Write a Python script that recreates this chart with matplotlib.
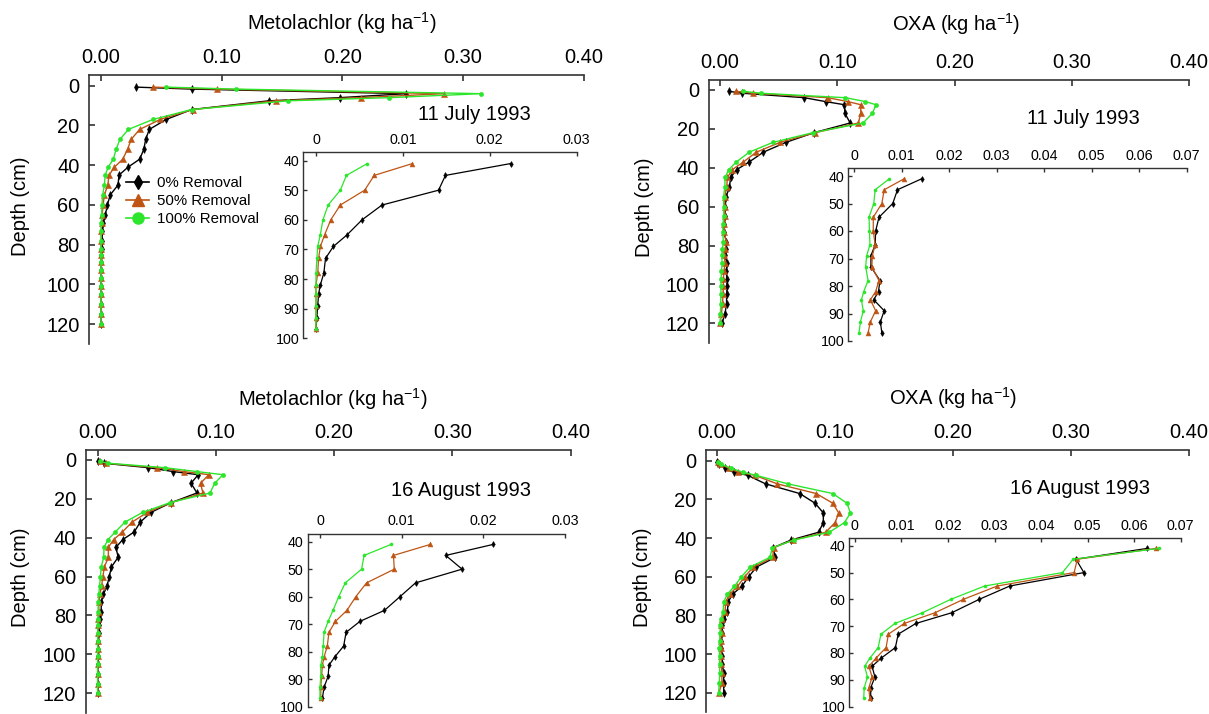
import matplotlib
matplotlib.use("Agg")
import matplotlib.pyplot as plt
from matplotlib.lines import Line2D

plt.rcParams['font.family'] = ['Liberation Sans', 'DejaVu Sans']
plt.rcParams['mathtext.fontset'] = 'custom'
plt.rcParams['mathtext.rm'] = 'Liberation Sans'
plt.rcParams['mathtext.default'] = 'regular'

# sampling depths (cm); the insets show the 41-97 cm part
depth = [0.7, 1.7, 4, 6, 7.6, 12, 17, 22, 27, 32, 37, 41, 45, 50, 55, 60,
         65, 69, 73, 78, 82, 85, 89, 93, 97, 101, 105, 110, 115, 120]
treatments = ["0% Removal", "50% Removal", "100% Removal"]

# metolachlor, 11 July 1993 (kg/ha)
met_jul_0 = [0.029, 0.075, 0.253, 0.198, 0.139, 0.075, 0.054, 0.040, 0.037, 0.0355, 0.032,
             0.0224, 0.0149, 0.0141, 0.0076, 0.0053, 0.0036, 0.0020, 0.0011, 0.0009,
             0.0005, 0.0003, 0.0002, 0.0001, 0.0, 0.0001, 0.0001, 0.0001, 0.0001, 0.0001]
met_jul_50 = [0.043, 0.096, 0.284, 0.215, 0.145, 0.076, 0.049, 0.032, 0.025, 0.022, 0.018,
              0.0111, 0.0067, 0.0056, 0.0028, 0.0017, 0.0010, 0.0005, 0.0003, 0.0002,
              0.0, 0.0, 0.0, 0.0, 0.0, 0.0, 0.0, 0.0, 0.0, 0.0]
met_jul_100 = [0.054, 0.112, 0.315, 0.239, 0.155, 0.075, 0.043, 0.0227, 0.0157, 0.0125, 0.0102,
               0.0059, 0.0035, 0.0028, 0.0014, 0.0008, 0.0005, 0.0002, 0.0001, 0.0,
               0.0, 0.0, 0.0, 0.0, 0.0, 0.0, 0.0, 0.0, 0.0, 0.0]

# OXA, 11 July 1993
oxa_jul_0 = [0.0074, 0.019, 0.072, 0.090, 0.106, 0.1065, 0.111, 0.080, 0.056, 0.037, 0.025,
             0.0142, 0.0091, 0.0081, 0.0052, 0.0045, 0.0044, 0.0035, 0.0035, 0.0054,
             0.0051, 0.0041, 0.0063, 0.0055, 0.0058, 0.0060, 0.0057, 0.0056, 0.0043, 0.0018]
oxa_jul_50 = [0.0136, 0.028, 0.092, 0.109, 0.120, 0.120, 0.118, 0.081, 0.051, 0.031, 0.020,
              0.0105, 0.0063, 0.0058, 0.0040, 0.0040, 0.0044, 0.0038, 0.0037, 0.0052,
              0.0045, 0.0034, 0.0045, 0.0034, 0.0029, 0.0028, 0.0026, 0.0022, 0.0012, 0.0003]
oxa_jul_100 = [0.020, 0.035, 0.107, 0.124, 0.133, 0.130, 0.122, 0.079, 0.045, 0.025, 0.014,
               0.0074, 0.0044, 0.0041, 0.0031, 0.0032, 0.0033, 0.0026, 0.0024, 0.0029,
               0.0020, 0.0015, 0.0019, 0.0013, 0.0010, 0.0009, 0.0008, 0.0006, 0.0004, 0.0001]

# metolachlor, 16 August 1993
met_aug_0 = [0.0005, 0.005, 0.043, 0.064, 0.085, 0.079, 0.084, 0.062, 0.045, 0.036, 0.031,
             0.0212, 0.0154, 0.0174, 0.0117, 0.0098, 0.0079, 0.0049, 0.0032, 0.0029,
             0.0018, 0.0011, 0.0010, 0.0005, 0.0003, 0.0002, 0.0002, 0.0001, 0.0001, 0.0001]
met_aug_50 = [0.0016, 0.007, 0.050, 0.073, 0.094, 0.087, 0.089, 0.062, 0.042, 0.029, 0.021,
              0.0135, 0.0090, 0.0091, 0.0057, 0.0044, 0.0033, 0.0019, 0.0011, 0.0009,
              0.0005, 0.0003, 0.0002, 0.0001, 0.0001, 0.0, 0.0, 0.0, 0.0, 0.0]
met_aug_100 = [0.0016, 0.009, 0.057, 0.084, 0.106, 0.099, 0.095, 0.061, 0.038, 0.023, 0.015,
               0.0087, 0.0054, 0.0051, 0.0031, 0.0023, 0.0016, 0.0010, 0.0005, 0.0004,
               0.0003, 0.0001, 0.0001, 0.0, 0.0, 0.0, 0.0, 0.0, 0.0, 0.0]

# OXA, 16 August 1993
oxa_aug_0 = [0.0, 0.0017, 0.0066, 0.014, 0.026, 0.041, 0.070, 0.083, 0.090, 0.090, 0.086,
             0.0627, 0.0475, 0.0492, 0.0333, 0.0267, 0.0208, 0.0131, 0.0093, 0.0087,
             0.0056, 0.0037, 0.0043, 0.0034, 0.0034, 0.0040, 0.0045, 0.0055, 0.0055, 0.0055]
oxa_aug_50 = [0.0007, 0.0026, 0.010, 0.018, 0.032, 0.051, 0.084, 0.098, 0.103, 0.100, 0.092,
              0.0646, 0.0478, 0.0471, 0.0306, 0.0233, 0.0172, 0.0106, 0.0072, 0.0067,
              0.0045, 0.0030, 0.0037, 0.0030, 0.0032, 0.0035, 0.0035, 0.0040, 0.0040, 0.0015]
oxa_aug_100 = [0.0007, 0.003, 0.012, 0.022, 0.033, 0.060, 0.098, 0.110, 0.113, 0.108, 0.095,
               0.0653, 0.0469, 0.0446, 0.0279, 0.0206, 0.0145, 0.0086, 0.0056, 0.0050,
               0.0032, 0.0021, 0.0027, 0.0020, 0.0019, 0.0020, 0.0020, 0.0022, 0.0018, 0.0012]

main_xticks = [0.0, 0.1, 0.2, 0.3, 0.4]
main_xlabels = ["0.00", "0.10", "0.20", "0.30", "0.40"]
main_yticks = [0, 20, 40, 60, 80, 100, 120]
inset_yticks = [40, 50, 60, 70, 80, 90, 100]
inset_xticks_met = [0, 0.01, 0.02, 0.03]
inset_xlabels_met = ["0", "0.01", "0.02", "0.03"]
inset_xticks_oxa = [0, 0.01, 0.02, 0.03, 0.04, 0.05, 0.06, 0.07]
inset_xlabels_oxa = ["0", "0.01", "0.02", "0.03", "0.04", "0.05", "0.06", "0.07"]

colors = ["black", "#be5514", "#2be62b"]
markers = ["d", "^", "o"]
main_ms = [4, 5, 3]
inset_ms = [3, 3.5, 2.2]

W, H = 1209, 714
fig = plt.figure(figsize=(W / 100, H / 100), dpi=100)


def px_box(x0, y0, x1, y1):
    return [x0 / W, 1 - y1 / H, (x1 - x0) / W, (y1 - y0) / H]


def style(ax, size, length, pad_x, pad_y, lw):
    ax.xaxis.tick_top()
    ax.spines[['right', 'bottom']].set_visible(False)
    for s in ['top', 'left']:
        ax.spines[s].set_linewidth(lw)
        ax.spines[s].set_color('#333333')
    ax.tick_params(axis='both', direction='in', length=length, width=lw,
                   labelsize=size, color='#333333')
    ax.tick_params(axis='x', pad=pad_x)
    ax.tick_params(axis='y', pad=pad_y)
    ax.set_facecolor('none')


def panel(box, xlim, ylim, series, inset_box, inset_xlim, ixt, ixl, date, date_xy):
    ax = fig.add_axes(px_box(*box))
    for vals, c, m, ms in zip(series, colors, markers, main_ms):
        ax.plot(vals, depth, color=c, marker=m, ms=ms, lw=1.0, mew=0.4, clip_on=False)
    ax.set_xlim(*xlim)
    ax.set_ylim(*ylim)
    ax.set_xticks(main_xticks, main_xlabels)
    ax.set_yticks(main_yticks)
    style(ax, 14.4, 4, 6, 7, 1.2)

    ins = fig.add_axes(px_box(*inset_box))
    for vals, c, m, ms in zip(series, colors, markers, inset_ms):
        ins.plot(vals[11:25], depth[11:25], color=c, marker=m, ms=ms, lw=0.9, mew=0.4)
    ins.set_xlim(*inset_xlim)
    ins.set_ylim(100, 37.2)
    ins.set_xticks(ixt, ixl)
    ins.set_yticks(inset_yticks)
    style(ins, 10.3, 2.8, 4, 3, 1.0)

    fig.text(date_xy[0] / W, 1 - date_xy[1] / H, date, fontsize=14.5,
             ha='center', va='center')
    return ax


ax_tl = panel((89.3, 75, 583.8, 343.9), (-0.0097, 0.40), (130, -5.4),
              [met_jul_0, met_jul_50, met_jul_100],
              (303.3, 152.3, 576.7, 338.3), (-0.00146, 0.03),
              inset_xticks_met, inset_xlabels_met, "11 July 1993", (474, 114))
panel((708.7, 80, 1189.2, 342.8), (-0.0096, 0.40), (130, -5.1),
      [oxa_jul_0, oxa_jul_50, oxa_jul_100],
      (848.3, 168.3, 1186.7, 341), (-0.00126, 0.07),
      inset_xticks_oxa, inset_xlabels_oxa, "11 July 1993", (1083, 118))
panel((85.7, 450, 570.7, 712.7), (-0.0101, 0.40), (130, -5.1),
      [met_aug_0, met_aug_50, met_aug_100],
      (307.7, 534, 565, 706.5), (-0.0015, 0.03),
      inset_xticks_met, inset_xlabels_met, "16 August 1993", (461, 491))
panel((706.2, 450, 1189, 712.2), (-0.0093, 0.40), (130, -5.5),
      [oxa_aug_0, oxa_aug_50, oxa_aug_100],
      (849.3, 538.3, 1180.7, 706.5), (-0.0012, 0.07),
      inset_xticks_oxa, inset_xlabels_oxa, "16 August 1993", (1080, 489))

# axis titles above each panel and depth labels
for txt, x, y in [("Metolachlor (kg ha$^{-1}$)", 342, 23), ("OXA (kg ha$^{-1}$)", 956, 24),
                  ("Metolachlor (kg ha$^{-1}$)", 333, 399), ("OXA (kg ha$^{-1}$)", 953, 398)]:
    fig.text(x / W, 1 - y / H, txt, fontsize=14.5, ha='center', va='center')
for x, y in [(21, 206), (645, 207), (21, 577), (643, 577)]:
    fig.text(x / W, 1 - y / H, "Depth (cm)", fontsize=14.5, ha='center', va='center',
             rotation=90)

handles = [Line2D([], [], color=c, marker=m, ms=ms, lw=1.2)
           for c, m, ms in zip(colors, markers, [7, 8, 8])]
ax_tl.legend(handles, treatments, loc='upper left', bbox_to_anchor=(126 / W, 1 - 176 / H),
             bbox_transform=fig.transFigure, frameon=False, fontsize=10.8,
             borderpad=0, borderaxespad=0, handlelength=1.55, handletextpad=0.5,
             labelspacing=0.28)

fig.savefig("out.png", dpi=100)
